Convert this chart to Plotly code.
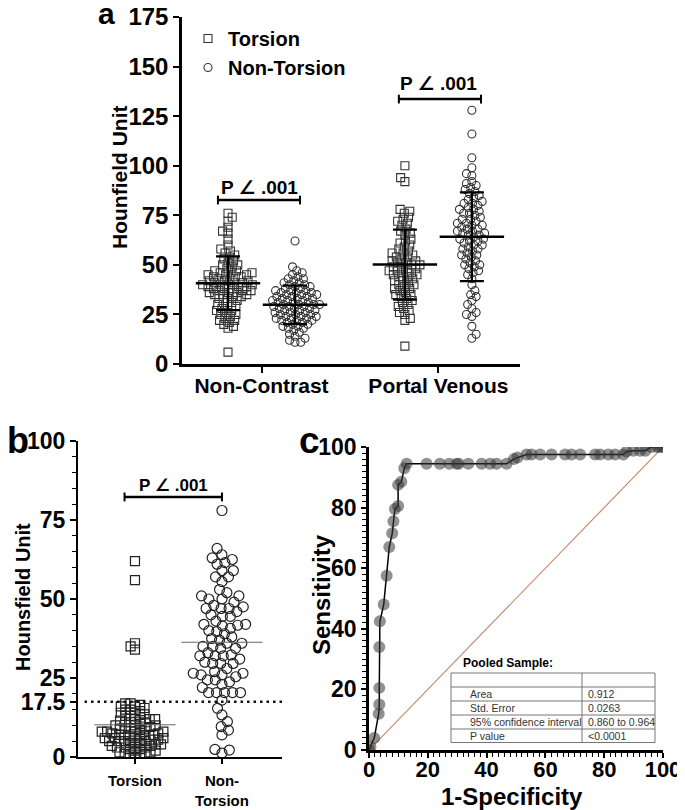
import numpy as np
import plotly.graph_objects as go

# page pixels -> figure (the html body adds an 8px margin)
PAD = 8
W, H = 685 - PAD, 810 - PAD
FONT = "Liberation Sans, Arial, DejaVu Sans"

# ---- panel a: Hounsfield unit, non-contrast and portal venous phase ----
nc_torsion = [76, 74, 72, 69, 67, 66, 63, 60, 58, 57, 56, 55, 54, 53, 52, 51, 50, 50, 49, 48,
              47, 47, 46, 46, 46, 45, 45, 45, 44, 44, 44, 43, 43, 42, 42, 42, 41, 41, 41, 40,
              40, 40, 40, 39, 39, 39, 38, 38, 38, 37, 37, 37, 36, 36, 36, 35, 35, 35, 34, 34,
              33, 33, 32, 31, 31, 30, 29, 29, 28, 27, 27, 26, 25, 25, 24, 23, 22, 22, 21, 20,
              19, 18, 6]
nc_non_torsion = [62, 49, 47, 46, 45, 44, 43, 43, 42, 41, 41, 40, 40, 39, 39, 38, 38, 37, 37, 37,
                  36, 36, 36, 35, 35, 35, 34, 34, 34, 33, 33, 33, 32, 32, 32, 31, 31, 31, 30, 30,
                  30, 30, 29, 29, 29, 28, 28, 28, 27, 27, 27, 26, 26, 26, 25, 25, 25, 24, 24, 24,
                  23, 23, 23, 22, 22, 22, 21, 21, 20, 20, 19, 19, 18, 18, 17, 16, 15, 14, 13, 12,
                  11, 11]
pv_torsion = [100, 94, 92, 78, 77, 76, 74, 73, 72, 71, 70, 68, 67, 66, 65, 63, 62, 61, 60, 59,
              58, 57, 56, 56, 55, 54, 54, 53, 52, 52, 51, 51, 50, 50, 49, 49, 48, 48, 47, 47,
              46, 46, 45, 45, 44, 44, 43, 42, 42, 41, 40, 40, 39, 38, 38, 37, 36, 35, 35, 34,
              33, 32, 31, 30, 29, 28, 27, 26, 25, 23, 22, 9]
pv_non_torsion = [128, 116, 104, 99, 96, 95, 92, 91, 90, 89, 88, 87, 86, 85, 84, 83, 82, 81, 81, 80,
                  79, 78, 78, 77, 76, 76, 75, 74, 73, 73, 72, 71, 71, 70, 70, 69, 68, 68, 67, 67,
                  66, 66, 65, 65, 64, 63, 63, 62, 62, 61, 60, 60, 59, 58, 58, 57, 56, 55, 55, 54,
                  53, 52, 51, 50, 50, 49, 48, 47, 46, 45, 43, 40, 37, 35, 34, 32, 30, 28, 26, 25,
                  24, 19, 15, 13]
a_categories = ["Non-Contrast", "Portal Venous"]

# ---- panel b ----
b_torsion = [62, 56, 36, 35, 34,
             17, 17, 16.5, 16, 16, 15.5, 15, 15, 14.5, 14, 14, 13.5, 13, 13, 12.5, 12, 12, 12,
             11.5, 11, 11, 11, 10.5, 10, 10, 10, 9.5, 9, 9, 9, 9, 8.5, 8, 8, 8, 8, 7.5, 7.5,
             7, 7, 7, 7, 6.5, 6.5, 6, 6, 6, 6, 5.5, 5.5, 5, 5, 5, 5, 4.5, 4.5, 4, 4, 4, 3.5,
             3.5, 3, 3, 3, 2.5, 2.5, 2, 2, 1.5, 1.5, 1, 1, 0.5, 0.5, 0]
b_non_torsion = [78, 66, 64, 63, 62.5, 61.5, 61, 59, 59, 57, 57, 55.5, 53, 52, 51, 51, 50, 50, 49,
                 48, 47.5, 47, 47, 47, 46, 45, 44.5, 44.5, 43, 42, 42, 41.7, 41.5, 40.7, 40, 39.7,
                 39, 38, 37.5, 37, 36, 36, 35, 35, 34.4, 34.4, 33, 32.3, 32, 32, 32, 31, 30, 29.6,
                 29.6, 29.6, 28, 27, 26.5, 26.5, 26, 26, 25.4, 24.4, 24.4, 23.8, 23, 22, 20.4,
                 20.4, 20.4, 20.4, 20.4, 18, 15.4, 13.3, 11.2, 9.6, 8.5, 7, 2.4, 2.2, 1.2]
b_categories = ["Torsion", "Non-<br>Torsion"]
b_cutoff = 17.5

# ---- panel c: ROC ----
roc_fpr = [0, 0.5, 1.8, 3.3, 3.5, 3.5, 3.5, 3.7, 5, 6, 6.9, 7.9, 8.3, 8.8, 9.9, 9.9, 11, 12, 12.8,
           19.6, 24.1, 27.3, 29.8, 30.5, 33.8, 38.3, 41.2, 43.4, 46.8, 49.3, 50.5, 53.6, 55.3,
           58.2, 62.1, 66.7, 68.9, 71.8, 76.9, 78.6, 81.4, 83.7, 86.5, 87.6, 89.9, 92.2, 94,
           96, 98, 99, 100]
roc_sens = [0, 1, 4, 12, 15, 20.5, 34, 42.5, 48, 57.5, 67, 71.5, 75.5, 79.5, 80.5, 87.5, 88.5, 93,
            94.5, 94.5, 94.5, 94.5, 94.5, 94.5, 94.5, 94.5, 94.5, 94.5, 94.5, 96, 96.5, 97.5, 97.5,
            97.5, 97.5, 97.5, 97.5, 97.5, 97.5, 97.5, 97.5, 97.5, 97.5, 98.5, 98.8, 98.8, 98.8,
            100, 100, 100, 100]
roc_rows = ["Area", "Std. Error", "95% confidence interval", "P value"]
roc_vals = ["0.912", "0.0263", "0.860 to 0.964", "<0.0001"]


def px(x):
    return (x - PAD) / W


def py(y):
    return 1 - (y - PAD) / H


def swarm(vals, y_ppu, x_ppu, d):
    # greedy beeswarm: horizontal offsets (data units) so points stay d px apart
    vals = np.asarray(vals, float)
    placed = []
    offs = np.zeros(len(vals))
    side = 1
    for i in np.argsort(vals):
        y = vals[i] * y_ppu
        blocked = []
        for bx, by in placed:
            dy = abs(by - y)
            if dy < d:
                dx = np.sqrt(d * d - dy * dy)
                blocked.append((bx - dx, bx + dx))
        cands = sorted([0.0] + [b for iv in blocked for b in iv],
                       key=lambda c: (round(abs(c), 3), -side * c))
        x = 0.0
        for c in cands:
            if all(not (lo + 1e-6 < c < hi - 1e-6) for lo, hi in blocked):
                x = c
                break
        if x != 0:
            side = -side
        placed.append((x, y))
        offs[i] = x / x_ppu
    return offs


fig = go.Figure()

# ---------------- panel a ----------------
a_ppu_y = (364 - 17) / 175
a_ppu_x = 67
a_pos = [1, 2, 3.64, 4.64]
a_groups = [nc_torsion, nc_non_torsion, pv_torsion, pv_non_torsion]
a_sym = ["square-open", "circle-open", "square-open", "circle-open"]
a_names = ["Torsion", "Non-Torsion", "Torsion", "Non-Torsion"]
for k, (vals, pos, sym) in enumerate(zip(a_groups, a_pos, a_sym)):
    off = swarm(vals, a_ppu_y, a_ppu_x, 5.8)
    fig.add_trace(go.Scatter(
        x=pos + off, y=vals, mode="markers", name=a_names[k], showlegend=k < 2,
        marker=dict(symbol=sym, size=8, color="#333", line=dict(width=1.1, color="#333")),
        xaxis="x", yaxis="y"))
for vals, pos in zip(a_groups, a_pos):
    fig.add_trace(go.Scatter(
        x=[pos], y=[np.mean(vals)], mode="markers", showlegend=False,
        marker=dict(symbol="line-ew-open", size=46, color="black",
                    line=dict(width=2.5, color="black")),
        error_y=dict(type="data", array=[np.std(vals, ddof=1)], width=12, thickness=2.2,
                     color="black"),
        xaxis="x", yaxis="y"))

# ---------------- panel b ----------------
b_ppu_y = (757 - 441) / 100
b_ppu_x = 87
b_pos = [1, 2]
for vals, pos, sym, d in zip([b_torsion, b_non_torsion], b_pos, ["square-open", "circle-open"],
                             [5.4, 8]):
    off = swarm(vals, b_ppu_y, b_ppu_x, d)
    fig.add_trace(go.Scatter(
        x=pos + off, y=vals, mode="markers", showlegend=False,
        marker=dict(symbol=sym, size=10 if sym == "circle-open" else 9, color="#222",
                    line=dict(width=1.2, color="#222")),
        xaxis="x2", yaxis="y2"))
    fig.add_trace(go.Scatter(
        x=[pos], y=[np.mean(vals)], mode="markers", showlegend=False,
        marker=dict(symbol="line-ew-open", size=58, color="#666",
                    line=dict(width=1, color="#666")),
        xaxis="x2", yaxis="y2"))

# ---------------- panel c ----------------
fig.add_trace(go.Scatter(
    x=roc_fpr, y=roc_sens, mode="lines+markers", showlegend=False,
    line=dict(color="black", width=1.5),
    marker=dict(size=12, color="rgba(55,55,55,0.55)", line=dict(width=0)),
    xaxis="x3", yaxis="y3"))

shapes = []


def bracket(x0, x1, y, xref, yref, cap):
    shapes.append(dict(type="line", x0=x0, x1=x1, y0=y, y1=y, xref=xref, yref=yref,
                       line=dict(color="black", width=2.5)))
    for xx in (x0, x1):
        shapes.append(dict(type="line", x0=xx, x1=xx, y0=y - cap, y1=y + cap, xref=xref,
                           yref=yref, line=dict(color="black", width=2)))


bracket(0.85, 2.075, 82.7, "x", "y", 2.2)
bracket(3.55, 4.776, 133.6, "x", "y", 2.2)
bracket(0.88, 2.0, 82.3, "x2", "y2", 1.4)

shapes.append(dict(type="line", x0=0.42, x1=2.69, y0=b_cutoff, y1=b_cutoff, xref="x2", yref="y2",
                   line=dict(color="#111", width=2.5, dash="2.5px,4px")))
shapes.append(dict(type="line", x0=0, x1=100, y0=0, y1=100, xref="x3", yref="y3",
                   line=dict(color="#c98d6e", width=1.2), layer="below"))

# results table
tb_l, tb_r, tb_t, tb_b, tb_mid = 451, 655, 673, 742.5, 582
row_y = [673, 687, 701, 715, 729, 742.5]
shapes.append(dict(type="rect", x0=px(tb_l), x1=px(tb_r), y0=py(tb_b), y1=py(tb_t),
                   xref="paper", yref="paper", line=dict(color="#777", width=1),
                   fillcolor="white"))
shapes.append(dict(type="line", x0=px(tb_mid), x1=px(tb_mid), y0=py(tb_b), y1=py(tb_t),
                   xref="paper", yref="paper", line=dict(color="#777", width=1)))
for ry in row_y[1:-1]:
    shapes.append(dict(type="line", x0=px(tb_l), x1=px(tb_r), y0=py(ry), y1=py(ry),
                       xref="paper", yref="paper", line=dict(color="#777", width=1)))

ann = []


def text(x, y, s, size, bold=True, angle=0, xanchor="center", color="black"):
    ann.append(dict(x=px(x), y=py(y), xref="paper", yref="paper", text=s, showarrow=False,
                    textangle=angle, xanchor=xanchor, yanchor="middle",
                    font=dict(family=FONT, size=size, color=color,
                              weight="bold" if bold else "normal")))


text(106, 14, "a", 30)
text(18, 440, "b", 36)
text(309, 440, "c", 37)
text(119, 178, "Hounfield Unit", 21, angle=-90)
text(23, 597, "Hounsfield Unit", 20, angle=-90)
text(321, 595, "Sensitivity", 24, angle=-90)
text(512, 796, "1-Specificity", 24)
text(259, 187, "P \u2220 .001", 19)
text(438, 83, "P \u2220 .001", 19)
text(173, 486, "P \u2220 .001", 17)
text(461, 663, "Pooled Sample:", 12, xanchor="left")
for k, (r, v) in enumerate(zip(roc_rows, roc_vals)):
    yc = (row_y[k + 1] + row_y[k + 2]) / 2
    text(468, yc, r, 10.5, bold=False, xanchor="left", color="#333")
    text(586, yc, v, 10.5, bold=False, xanchor="left", color="#333")

axis_common = dict(showline=True, linecolor="black", showgrid=False, zeroline=False,
                   ticks="outside", tickcolor="black", fixedrange=True,
                   ticklabeloverflow="allow")

fig.update_layout(
    width=W, height=H, margin=dict(l=0, r=0, t=0, b=0, autoexpand=False),
    plot_bgcolor="white", paper_bgcolor="white",
    font=dict(family=FONT, color="black"),
    shapes=shapes, annotations=ann,
    legend=dict(x=px(188), y=py(19), xanchor="left", yanchor="top", bgcolor="rgba(0,0,0,0)",
                font=dict(family=FONT, size=20, weight="bold"), itemwidth=30),
    xaxis=dict(axis_common, domain=[px(182), px(520)], range=[0.3134, 5.358], linewidth=2.5,
               tickvals=[1.5, 4.14], ticktext=a_categories, ticklen=6, tickwidth=2,
               tickfont=dict(size=21, weight="bold"), ticklabelstandoff=-5, anchor="y"),
    yaxis=dict(axis_common, domain=[py(364), py(17)], range=[0, 175], dtick=25, linewidth=2.5,
               ticklen=6, tickwidth=2, tickfont=dict(size=24, weight="bold"), anchor="x"),
    xaxis2=dict(axis_common, domain=[px(78), px(282)], range=[0.345, 2.69], linewidth=2,
                tickvals=b_pos, ticktext=b_categories, ticklen=5, tickwidth=1.5,
                tickfont=dict(size=15, weight="bold"), ticklabelstandoff=4, anchor="y2"),
    yaxis2=dict(axis_common, domain=[py(757), py(441)], range=[0, 100], linewidth=2,
                tickvals=[0, b_cutoff, 25, 50, 75, 100], ticklen=6, tickwidth=2,
                tickfont=dict(size=23, weight="bold"),
                minor=dict(dtick=5, ticks="outside", ticklen=4, tickwidth=1.2, tickcolor="black"),
                anchor="x2"),
    xaxis3=dict(axis_common, domain=[px(369), px(663)], range=[0, 100], dtick=20, linewidth=2.5,
                ticklen=5, tickwidth=2, tickfont=dict(size=22, weight="bold"),
                ticklabelstandoff=-7,
                minor=dict(dtick=2, ticks="outside", ticklen=4, tickwidth=1.2, tickcolor="black"),
                anchor="y3"),
    yaxis3=dict(axis_common, domain=[py(750), py(447)], range=[0, 100], dtick=20, linewidth=2.5,
                ticklen=5, tickwidth=2, tickfont=dict(size=23, weight="bold"),
                minor=dict(dtick=2, ticks="outside", ticklen=4, tickwidth=1.2, tickcolor="black"),
                anchor="x3"),
)

fig.write_html("out.html")
